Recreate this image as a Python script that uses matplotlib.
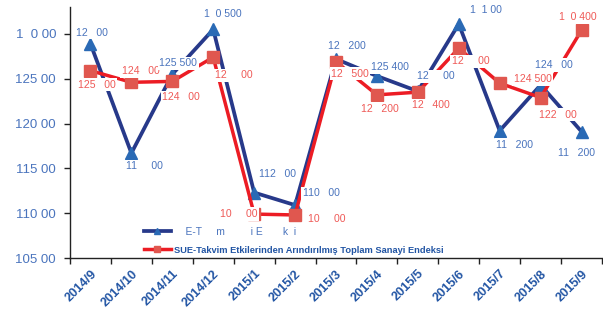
import matplotlib
matplotlib.use("Agg")
import matplotlib.pyplot as plt
from matplotlib.lines import Line2D

# months on the x axis
months = ['2014/9', '2014/10', '2014/11', '2014/12', '2015/1', '2015/2',
          '2015/3', '2015/4', '2015/5', '2015/6', '2015/7', '2015/8',
          '2015/9']

# SUE-Takvim Etkilerinden Arindirilmamis (blue, triangles)
blue_vals = [128.9, 116.7, 125.5, 130.5, 112.3, 110.9, 127.2, 125.3,
             123.6, 131.1, 119.2, 124.3, 119.1]
# SUE-Takvim Etkilerinden Arindirilmis (red, squares)
red_vals = [125.9, 124.6, 124.7, 127.4, 109.9, 109.8, 126.9, 123.2,
            123.5, 128.4, 124.5, 122.9, 130.4]

# data labels, as they appear (digits missing in the original)
blue_labels = ['12   00', '11     00', '125 500', '1  0 500', '112   00',
               '110   00', '12   200', '125 400', '12     00', '1  1 00',
               '11   200', '124   00', '11   200']
red_labels = ['125   00', '124   00', '124   00', '12     00', '10     00',
              '10     00', '12   500', '12   200', '12   400', '12     00',
              '124 500', '122   00', '1  0 400']

y_ticks = [105, 110, 115, 120, 125, 130]
y_ticklabels = ['105 00', '110 00', '115 00', '120 00', '125 00', '1  0 00']

legend_labels = ['    E-T     m         i E       k  i',
                 'SUE-Takvim Etkilerinden Arındırılmış Toplam Sanayi Endeksi']

# label offsets in pixels (dx, dy) from each point
blue_offsets = [(1, 11), (13, -13), (6, 11), (10, 15), (23, 19), (26, 12),
                (11, 13), (13, 9), (18, 15), (27, 14), (15, -14), (13, 20),
                (-5, -21)]
red_offsets = [(6, -14), (9, 11), (9, -16), (21, -18), (-15, 0), (32, -4),
               (14, -12), (3, -14), (13, -13), (12, -13), (33, 4), (17, -17),
               (-4, 13)]

BLUE_LINE = '#27398a'
BLUE_MARK = '#2a6ab5'
BLUE_TEXT = '#4a74bd'
RED_LINE = '#ec1c24'
RED_MARK = '#e0574f'
RED_TEXT = '#ef5a57'
AXIS_TEXT = '#2255a4'

plt.rcParams['font.family'] = ['Liberation Sans', 'DejaVu Sans']

fig = plt.figure(figsize=(6.03, 3.16), dpi=100)
W, H = 603, 316
ax = fig.add_axes([70 / W, (H - 258) / H, 532 / W, (258 - 7) / H])

x = list(range(len(months)))
ax.plot(x, blue_vals, color=BLUE_LINE, lw=2.7, marker='^', ms=8.5,
        mfc=BLUE_MARK, mec=BLUE_MARK, zorder=2)
ax.plot(x, red_vals, color=RED_LINE, lw=2.5, marker='s', ms=8,
        mfc=RED_MARK, mec=RED_MARK, zorder=2.5)

box = dict(boxstyle='square,pad=0.15', fc='white', ec='none')
for i in x:
    ax.annotate(blue_labels[i], (i, blue_vals[i]), xytext=blue_offsets[i],
                textcoords='offset pixels', ha='center', va='center',
                fontsize=7.6, color=BLUE_TEXT, bbox=box, zorder=5)
    ax.annotate(red_labels[i], (i, red_vals[i]), xytext=red_offsets[i],
                textcoords='offset pixels', ha='center', va='center',
                fontsize=7.6, color=RED_TEXT, bbox=box, zorder=5)

ax.set_xlim(-0.5, len(months) - 0.5)
ax.set_ylim(105, 133)
ax.set_yticks(y_ticks)
ax.set_yticklabels(y_ticklabels, fontsize=9.5, color=BLUE_TEXT)
ax.tick_params(axis='y', length=4, width=1, pad=6, color='#222222')

ax.set_xticks(x)
ax.set_xticklabels(months, rotation=45, ha='right', va='top',
                   rotation_mode='anchor', fontsize=9.2, fontweight='bold',
                   color=AXIS_TEXT)
ax.tick_params(axis='x', length=0, pad=7)
ax.set_xticks([i - 0.5 for i in range(len(months) + 1)], minor=True)
ax.tick_params(axis='x', which='minor', length=4, width=1, color='#222222')

for side in ('top', 'right'):
    ax.spines[side].set_visible(False)
for side in ('left', 'bottom'):
    ax.spines[side].set_color('#222222')
    ax.spines[side].set_linewidth(1)

handles = [
    Line2D([], [], color=BLUE_LINE, lw=2.7, marker='^', ms=5,
           mfc=BLUE_MARK, mec=BLUE_MARK),
    Line2D([], [], color=RED_LINE, lw=2.5, marker='s', ms=5,
           mfc=RED_MARK, mec=RED_MARK),
]
leg = ax.legend(handles, legend_labels, loc='upper left',
                bbox_to_anchor=(140 / W, 1 - 223 / H),
                bbox_transform=fig.transFigure, frameon=False,
                fontsize=6.7, handlelength=2.9, handletextpad=0.4,
                labelspacing=0.95, borderaxespad=0)
t1, t2 = leg.get_texts()
t1.set_color(BLUE_TEXT)
t1.set_fontsize(7.4)
t2.set_color(AXIS_TEXT)
t2.set_fontweight('bold')

fig.savefig('out.png', dpi=100)
